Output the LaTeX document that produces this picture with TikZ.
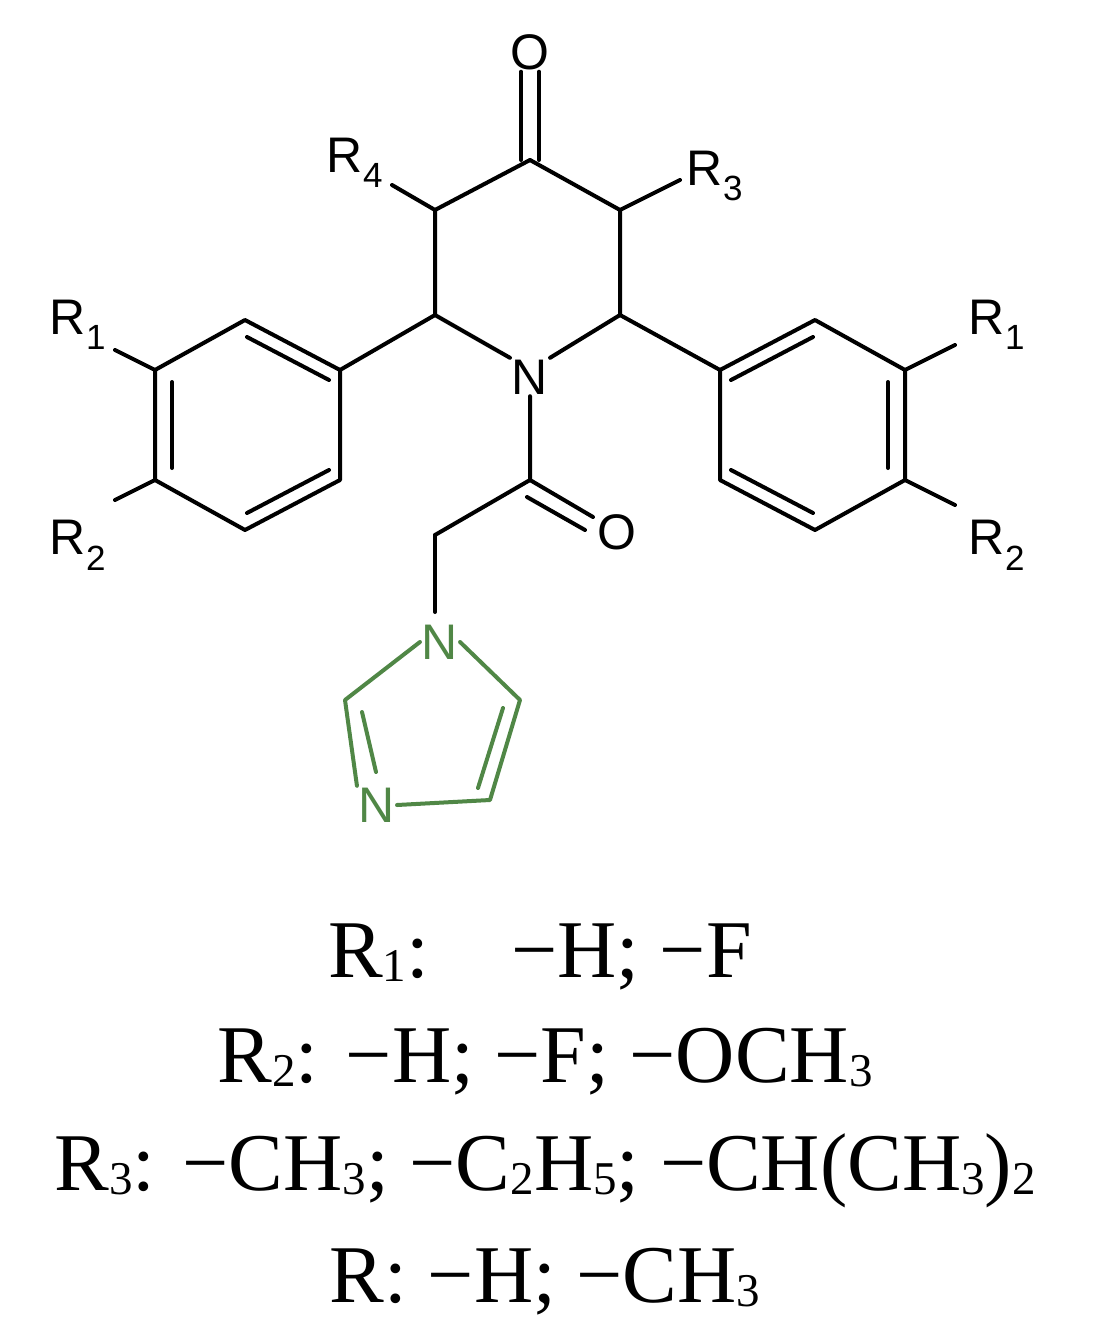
\documentclass[tikz,border=0pt]{standalone}
\usepackage{fontspec}
\setmainfont{Liberation Serif}
\newfontfamily\lsans{Liberation Sans}
\newcommand{\lowsub}[1]{\raisebox{-0.05em}{\fontsize{47}{47}\selectfont #1}}
\newcommand{\mn}{\symbol{"2212}}
\begin{document}
\begin{tikzpicture}[x=1pt,y=-1pt,line width=4pt,line cap=round,line join=round,
  atom/.style={font=\lsans\fontsize{50}{50}\selectfont,inner sep=0pt},
  gatom/.style={atom,text={rgb,255:red,80;green,135;blue,70}},
  bottom/.style={font=\fontsize{82}{82}\selectfont,inner sep=0pt,anchor=base}]
\useasboundingbox (0,0) rectangle (1100,1342);
\coordinate (c4) at (530,160); \coordinate (c3) at (620,210); \coordinate (c2) at (620,315);
\coordinate (c6) at (435,315); \coordinate (c5) at (435,210);
\node[atom] (n) at (530,377) {N};
\node[atom] (o1) at (530,52) {O};
\node[atom] (r4) at (355,163) {R\textsubscript{4}};
\node[atom] (r3) at (715,176) {R\textsubscript{3}};
% ring
\draw (c4)--(c3)--(c2)--(n.north east);
\draw (c4)--(c5)--(c6)--(n.north west);
\draw ([xshift=-9]c4)--([xshift=-9]o1.south); \draw ([xshift=9]c4)--([xshift=9]o1.south);
\draw (c5)--(392,185); \draw (c3)--(680,180);
% left phenyl
\coordinate (a1) at (340,370); \coordinate (a2) at (245,320); \coordinate (a3) at (155,370);
\coordinate (a4) at (155,480); \coordinate (a5) at (245,530); \coordinate (a6) at (340,480);
\draw (c6)--(a1);
\draw (a1)--(a2)--(a3)--(a4)--(a5)--(a6)--cycle;
\draw (329,380)--(247,337); \draw (172,382)--(172,468); \draw (247,513)--(329,470);
\node[atom] (r1l) at (78,325) {R\textsubscript{1}};
\node[atom] (r2l) at (78,545) {R\textsubscript{2}};
\draw (a3)--(115,350); \draw (a4)--(115,500);
% right phenyl
\coordinate (b1) at (720,370); \coordinate (b2) at (815,320); \coordinate (b3) at (905,370);
\coordinate (b4) at (905,480); \coordinate (b5) at (815,530); \coordinate (b6) at (720,480);
\draw (c2)--(b1);
\draw (b1)--(b2)--(b3)--(b4)--(b5)--(b6)--cycle;
\draw (731,380)--(813,337); \draw (888,382)--(888,468); \draw (813,513)--(731,470);
\node[atom] (r1r) at (997,325) {R\textsubscript{1}};
\node[atom] (r2r) at (997,545) {R\textsubscript{2}};
\draw (b3)--(955,345); \draw (b4)--(955,505);
% amide
\coordinate (cc) at (530,480); \coordinate (ch) at (435,535);
\node[atom] (o2) at (617,532) {O};
\draw (n.south)--(cc)--(ch);
\draw (cc)--(593,517); \draw (527,497)--(585,530);
\node[gatom] (n1) at (440,642) {N};
\draw (ch)--(435,612);
% imidazole
\begin{scope}[draw={rgb,255:red,80;green,135;blue,70}]
\node[gatom] (n3) at (377,805) {N};
\coordinate (i5) at (520,700); \coordinate (i4) at (490,800); \coordinate (i2) at (345,700);
\draw (n1.east)--(i5)--(i4)--(n3.east);
\draw (n1.west)--(i2)--(n3.north west);
\draw (503,708)--(478,788);
\draw (362,712)--(376,772);
\end{scope}
% bottom text
\node[bottom] (t1) at (540,977) {R\lowsub{1}:\quad\mn H; \mn F};
\node[bottom] (t2) at (545,1082) {R\lowsub{2}: \mn H; \mn F; \mn OCH\lowsub{3}};
\node[bottom] (t3) at (545,1190) {R\lowsub{3}: \mn CH\lowsub{3}; \mn C\lowsub{2}H\lowsub{5}; \mn CH(CH\lowsub{3})\lowsub{2}};
\node[bottom] (t4) at (545,1302) {R: \mn H; \mn CH\lowsub{3}};
\end{tikzpicture}
\end{document}
